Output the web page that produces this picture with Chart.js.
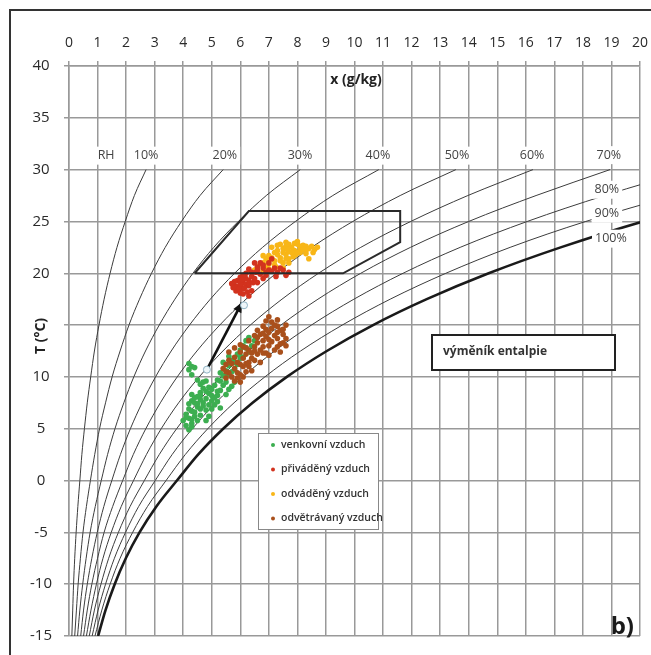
<!DOCTYPE html>
<html>
<head>
<meta charset="utf-8">
<script src="https://cdn.jsdelivr.net/npm/chart.js@4.4.1/dist/chart.umd.min.js"></script>
<style>
  html, body { margin: 0; padding: 0; background: #fff; }
  #wrap { position: relative; width: 651px; height: 655px; }
</style>
</head>
<body>
<div id="wrap"><canvas id="psy" width="651" height="655"></canvas></div>
<script>
// temperature levels (°C) at which the RH curves are read
const tempLevels = [-15, -12.5, -10, -7.5, -5, -2.5, 0, 2.5, 5, 7.5, 10, 12.5, 15, 17.5, 20, 22.5, 25, 27.5, 30];

// moisture content x (g/kg) on each RH curve, at the temperature levels above
const rh10 = [0.10, 0.13, 0.16, 0.20, 0.25, 0.31, 0.38, 0.45, 0.54, 0.64, 0.76, 0.89, 1.05, 1.23, 1.44, 1.68, 1.97, 2.29, 2.70];
const rh20 = [0.20, 0.26, 0.32, 0.40, 0.49, 0.61, 0.75, 0.90, 1.07, 1.28, 1.51, 1.79, 2.10, 2.47, 2.89, 3.37, 3.94, 4.59, 5.40];
const rh30 = [0.30, 0.38, 0.48, 0.60, 0.74, 0.92, 1.13, 1.35, 1.61, 1.92, 2.27, 2.68, 3.16, 3.71, 4.34, 5.07, 5.93, 6.91, 8.10];
const rh40 = [0.41, 0.51, 0.64, 0.80, 0.99, 1.22, 1.50, 1.80, 2.15, 2.56, 3.03, 3.58, 4.22, 4.95, 5.80, 6.78, 7.93, 9.24, 10.85];
const rh50 = [0.51, 0.64, 0.80, 1.00, 1.23, 1.53, 1.88, 2.25, 2.69, 3.20, 3.79, 4.48, 5.28, 6.20, 7.26, 8.50, 9.94, 11.60, 13.55];
const rh60 = [0.61, 0.77, 0.96, 1.19, 1.48, 1.83, 2.26, 2.71, 3.23, 3.84, 4.56, 5.39, 6.35, 7.46, 8.74, 10.22, 11.97, 13.97, 16.25];
const rh70 = [0.71, 0.89, 1.12, 1.39, 1.73, 2.14, 2.64, 3.16, 3.77, 4.49, 5.32, 6.29, 7.42, 8.72, 10.22, 11.96, 14.00, 16.36, 18.95];
const rh80 = [0.81, 1.02, 1.28, 1.59, 1.98, 2.44, 3.02, 3.61, 4.32, 5.14, 6.09, 7.20, 8.49, 9.98, 11.70, 13.70, 16.05, 18.76, 21.80];
const rh90 = [0.91, 1.15, 1.44, 1.79, 2.23, 2.75, 3.40, 4.07, 4.86, 5.78, 6.86, 8.11, 9.57, 11.25, 13.20, 15.45, 18.10, 21.20, 24.60];
const rh100 = [1.02, 1.28, 1.60, 1.99, 2.47, 3.06, 3.78, 4.52, 5.40, 6.43, 7.63, 9.03, 10.65, 12.53, 14.70, 17.22, 20.10, 23.60, 27.40];
const rhNames = ["RH", "10%", "20%", "30%", "40%", "50%", "60%", "70%", "80%", "90%", "100%"];

// comfort zone outline [x, T]
const comfortZone = [[4.4, 20], [6.3, 26], [11.6, 26], [11.6, 23], [9.6, 20], [4.4, 20]];
// arrow outdoor -> supply [x, T]
const arrowPts = [[4.83, 10.7], [6.06, 17.2]];

const seriesNames = ["venkovní vzduch", "přiváděný vzduch", "odváděný vzduch", "odvětrávaný vzduch"];

// measured states [x (g/kg), T (°C)]
const venkovni = [
  [4.2, 11.3], [4.2, 10.7], [4.3, 10.2], [4.5, 9.7], [4.6, 9.3], [4.7, 8.9], [4.6, 8.5], [4.5, 8.1],
  [4.3, 7.7], [4.2, 7.4], [4.2, 6.9], [4.1, 6.4], [4.2, 6.0], [4.3, 5.5], [4.2, 4.9], [4.4, 6.6],
  [4.5, 7.1], [4.7, 7.5], [4.8, 7.9], [4.9, 8.4], [5.0, 8.8], [5.1, 9.2], [4.8, 6.8], [4.9, 7.3],
  [5.0, 7.7], [5.2, 8.2], [5.3, 8.7], [5.4, 9.2], [5.2, 9.7], [5.4, 10.1], [5.5, 10.6], [5.6, 11.1],
  [5.7, 11.6], [5.6, 10.2], [5.8, 10.7], [5.9, 11.2], [6.0, 11.8], [5.9, 12.2], [6.0, 12.6], [6.1, 13.0],
  [6.2, 13.5], [6.3, 13.8], [6.3, 12.4], [5.5, 9.5], [5.1, 7.3], [4.6, 6.3], [4.5, 5.8], [4.0, 5.8],
  [4.1, 5.3], [4.8, 5.8], [5.0, 8.2], [5.4, 11.4], [5.6, 12.0], [6.1, 11.9], [6.4, 13.0], [6.5, 13.5],
  [4.4, 7.5], [4.6, 7.8], [4.3, 8.3], [4.8, 9.6], [4.9, 6.2], [5.3, 7.0], [5.6, 8.8], [5.8, 9.5],
  [4.3, 5.9], [4.4, 6.2], [4.6, 6.9], [4.7, 7.2], [4.5, 7.4], [4.4, 8.0], [4.6, 8.2], [4.8, 8.6],
  [4.7, 9.5], [4.9, 9.0], [5.1, 8.0], [5.2, 8.6], [5.3, 9.6], [5.5, 10.1], [5.3, 10.4], [5.7, 10.5],
  [5.8, 11.4], [6.0, 12.0], [6.2, 12.8], [4.3, 6.7], [4.1, 6.1], [4.3, 5.2], [4.4, 10.9], [4.3, 11.0],
  [5.0, 6.9], [5.2, 7.6], [5.5, 8.3], [5.7, 9.1]
];
const privadeny = [
  [5.8, 18.8], [5.9, 19.3], [6.0, 19.6], [6.1, 19.1], [6.2, 19.5], [5.85, 18.3], [6.0, 18.1], [6.1, 18.5],
  [6.3, 18.8], [6.3, 19.3], [6.4, 19.7], [6.55, 20.1], [6.4, 18.3], [6.6, 19.1], [6.8, 19.5], [6.3, 17.8],
  [5.9, 18.7], [6.2, 20.0], [6.3, 20.4], [6.6, 20.6], [6.8, 20.5], [6.9, 20.1], [7.0, 20.3], [7.2, 20.5],
  [7.3, 20.1], [7.5, 20.3], [7.6, 19.8], [7.7, 20.1], [6.7, 21.0], [7.0, 21.0], [7.1, 21.4], [6.5, 21.0],
  [6.0, 18.9], [5.7, 19.0], [6.9, 19.8], [7.25, 19.7], [6.1, 18.0],
  [5.8, 19.2], [6.0, 19.0], [6.1, 19.8], [6.2, 18.9], [6.3, 19.0], [6.45, 19.1], [6.5, 19.5], [6.4, 20.1],
  [6.7, 19.9], [6.15, 18.6], [5.95, 18.5], [6.25, 18.2], [6.8, 20.8], [7.1, 20.2], [7.4, 20.5], [6.6, 20.3],
  [6.05, 19.4], [5.75, 18.6]
];
const odvadeny = [
  [6.6, 20.6], [6.8, 21.0], [6.9, 21.4], [7.0, 21.7], [7.2, 22.0], [7.3, 22.2], [7.5, 22.4], [7.6, 22.6],
  [7.7, 22.8], [7.9, 22.9], [8.0, 22.8], [8.2, 22.7], [8.3, 22.6], [8.4, 22.4], [8.6, 22.3], [8.7, 22.5],
  [6.9, 20.6], [7.0, 20.9], [7.2, 21.2], [7.4, 21.5], [7.6, 21.8], [7.7, 22.1], [7.9, 22.2], [8.1, 22.0],
  [8.3, 21.9], [8.4, 21.4], [7.0, 20.4], [7.25, 20.6], [7.5, 21.0], [7.7, 21.4], [7.85, 21.6], [7.4, 22.8],
  [7.6, 23.0], [8.0, 23.05], [7.1, 22.5], [7.3, 22.7], [6.5, 20.3], [6.8, 20.3], [8.1, 22.4], [7.7, 21.0],
  [7.5, 20.5], [7.95, 21.8], [6.8, 21.7], [8.3, 22.2], [8.55, 22.0],
  [7.1, 21.5], [7.3, 21.8], [7.5, 22.0], [7.8, 22.5], [8.1, 22.6], [7.9, 21.9], [7.2, 20.8], [7.4, 21.2],
  [7.6, 21.4], [7.8, 22.0], [8.2, 22.3], [8.5, 22.6], [7.0, 21.2], [6.7, 20.9], [7.65, 22.3], [8.0, 22.0]
];
const odvetravany = [
  [5.4, 10.8], [5.5, 11.2], [5.6, 11.6], [5.6, 10.4], [5.7, 10.0], [5.9, 9.9], [6.0, 10.2], [5.8, 10.8],
  [5.9, 11.4], [6.1, 11.8], [6.2, 12.2], [6.1, 11.0], [6.3, 11.4], [6.4, 11.8], [6.3, 12.6], [6.5, 12.9],
  [6.6, 13.3], [6.6, 12.2], [6.7, 12.6], [6.8, 12.9], [6.8, 13.5], [6.9, 13.9], [7.0, 14.3], [7.0, 13.0],
  [7.1, 13.4], [7.3, 13.7], [7.2, 12.6], [7.3, 12.9], [7.5, 13.3], [6.6, 14.5], [6.8, 14.9], [6.9, 15.4],
  [7.0, 15.8], [7.1, 15.3], [7.3, 14.9], [7.4, 14.5], [7.5, 14.1], [7.6, 13.7], [5.6, 12.4], [5.8, 12.8],
  [6.3, 13.5], [5.5, 9.9], [6.0, 9.5], [6.4, 10.6], [6.7, 11.4], [7.0, 12.1], [7.4, 12.4], [7.6, 15.0],
  [7.6, 13.0], [6.5, 14.0], [7.3, 15.5], [6.2, 10.5], [6.5, 11.6], [5.8, 9.6], [6.0, 11.2], [6.9, 12.3],
  [7.2, 14.0],
  [5.5, 10.5], [5.7, 11.3], [5.8, 11.9], [6.0, 12.4], [6.1, 12.9], [6.2, 11.3], [6.4, 12.3], [6.5, 12.5],
  [6.6, 13.8], [6.7, 14.1], [6.8, 14.2], [6.9, 14.6], [7.1, 14.7], [7.2, 15.0], [7.4, 13.2], [7.0, 13.6],
  [6.8, 12.3], [6.3, 11.0], [5.9, 10.4], [6.1, 10.0], [7.5, 14.6], [7.3, 14.3], [6.2, 12.8], [6.0, 13.1]
];

const seriesColors = ["#3cae50", "#d2321e", "#f8b617", "#a9501c"];
const FONT = "'Open Sans', 'Liberation Sans', sans-serif";
const GRID = "#999999";

const toXY = (arr) => arr.map(p => ({ x: p[0], y: p[1] }));

const rhCurves = [rh10, rh20, rh30, rh40, rh50, rh60, rh70, rh80, rh90, rh100].map((arr, k) => ({
  data: tempLevels.map((t, i) => ({ x: arr[i], y: t })),
  showLine: true,
  fill: false,
  pointRadius: 0,
  borderColor: k === 9 ? "#1a1a1a" : "#3c3c3c",
  borderWidth: k === 9 ? 2.6 : 1,
  cubicInterpolationMode: "monotone",
  order: 6
}));

function pointSet(arr, idx, order) {
  return {
    label: seriesNames[idx],
    data: toXY(arr),
    pointRadius: 2.8,
    pointBorderWidth: 0,
    backgroundColor: seriesColors[idx],
    borderColor: seriesColors[idx],
    order: order
  };
}

const overlay = {
  id: "overlay",
  afterDatasetsDraw(chart) {
    const { ctx, scales } = chart;
    const px = (x) => scales.x.getPixelForValue(x);
    const py = (t) => scales.y.getPixelForValue(t);

    // arrow head
    const x1 = px(arrowPts[0][0]), y1 = py(arrowPts[0][1]);
    const x2 = px(arrowPts[1][0]), y2 = py(arrowPts[1][1]);
    const ang = Math.atan2(y2 - y1, x2 - x1);
    ctx.save();
    ctx.fillStyle = "#111";
    ctx.beginPath();
    ctx.moveTo(x2, y2);
    ctx.lineTo(x2 - 11 * Math.cos(ang - 0.42), y2 - 11 * Math.sin(ang - 0.42));
    ctx.lineTo(x2 - 11 * Math.cos(ang + 0.42), y2 - 11 * Math.sin(ang + 0.42));
    ctx.closePath();
    ctx.fill();
    // open circles at the arrow ends
    ctx.lineWidth = 1;
    ctx.strokeStyle = "#8fb3c4";
    ctx.fillStyle = "#eef6fa";
    [[x1, y1], [x2 + 2, y2 + 3]].forEach(([a0, b0]) => {
      ctx.beginPath(); ctx.arc(a0, b0, 3.5, 0, Math.PI * 2); ctx.fill(); ctx.stroke();
    });

    // RH labels with white background
    const spots = [[1.30, 31.35], [2.70, 31.35], [5.46, 31.35], [8.09, 31.35], [10.82, 31.35],
      [13.59, 31.35], [16.22, 31.35], [18.91, 31.4], [18.84, 28.06], [18.84, 25.75], [18.98, 23.34]];
    ctx.font = "12.5px " + FONT;
    ctx.textAlign = "center";
    ctx.textBaseline = "middle";
    rhNames.forEach((name, i) => {
      const cx = px(spots[i][0]), cy = py(spots[i][1]);
      const w = ctx.measureText(name).width + 6;
      ctx.fillStyle = "#fff";
      ctx.fillRect(cx - w / 2, cy - 9, w, 18);
      ctx.fillStyle = "#444";
      ctx.fillText(name, cx, cy);
    });

    // axis title inside the plot
    ctx.font = "bold 14px " + FONT;
    ctx.fillStyle = "#222";
    ctx.fillText("x (g/kg)", 356, 80);

    // info box
    ctx.fillStyle = "#fff";
    ctx.fillRect(432, 335, 183, 35);
    ctx.lineWidth = 2;
    ctx.strokeStyle = "#222";
    ctx.strokeRect(432, 335, 183, 35);
    ctx.fillStyle = "#333";
    ctx.textAlign = "left";
    ctx.font = "bold 12px " + FONT;
    ctx.fillText("výměník entalpie", 443, 352);

    // legend box
    ctx.fillStyle = "#fff";
    ctx.fillRect(258, 433, 120, 96);
    ctx.lineWidth = 1;
    ctx.strokeStyle = "#888";
    ctx.strokeRect(258.5, 433.5, 120, 96);
    ctx.font = "600 10.5px " + FONT;
    seriesNames.forEach((name, i) => {
      const ly = 445 + i * 24.5;
      ctx.fillStyle = seriesColors[i];
      ctx.beginPath(); ctx.arc(273, ly, 2, 0, Math.PI * 2); ctx.fill();
      ctx.fillStyle = "#333";
      ctx.fillText(name, 281, ly);
    });

    // panel tag
    ctx.font = "bold 24px " + FONT;
    ctx.fillStyle = "#1a1a1a";
    ctx.textAlign = "right";
    ctx.textBaseline = "alphabetic";
    ctx.fillText("b)", 634, 634);

    // y axis title, covering the "15" tick label as in the original
    ctx.translate(41, 336);
    ctx.rotate(-Math.PI / 2);
    ctx.fillStyle = "#fff";
    ctx.fillRect(-24, -10, 48, 20);
    ctx.textAlign = "center";
    ctx.textBaseline = "middle";
    ctx.font = "bold 14px " + FONT;
    ctx.fillStyle = "#222";
    ctx.fillText("T (°C)", 0, 0);
    ctx.restore();
  },
  afterDraw(chart) {
    const { ctx } = chart;
    ctx.save();
    ctx.strokeStyle = "#333";
    ctx.lineWidth = 2;
    ctx.beginPath();
    ctx.moveTo(10, 655);
    ctx.lineTo(10, 10);
    ctx.lineTo(651, 10);
    ctx.stroke();
    ctx.restore();
  }
};

new Chart(document.getElementById("psy"), {
  type: "scatter",
  data: {
    datasets: [
      pointSet(venkovni, 0, 4),
      pointSet(privadeny, 1, 2),
      pointSet(odvadeny, 2, 3),
      pointSet(odvetravany, 3, 1),
      ...rhCurves,
      {
        data: toXY(comfortZone), showLine: true, fill: false, pointRadius: 0,
        borderColor: "#2a2a2a", borderWidth: 2, tension: 0, order: 0
      },
      {
        data: toXY(arrowPts), showLine: true, fill: false, pointRadius: 0,
        borderColor: "#111", borderWidth: 2.6, tension: 0, order: 0
      }
    ]
  },
  options: {
    responsive: false,
    animation: false,
    devicePixelRatio: 1,
    layout: { padding: { left: 0, right: 11, top: 0, bottom: 19 } },
    plugins: { legend: { display: false }, tooltip: { enabled: false } },
    scales: {
      x: {
        type: "linear",
        position: "top",
        min: 0, max: 20,
        afterFit: (s) => { s.height = 66; s.paddingLeft = 0; s.paddingRight = 0; },
        ticks: { stepSize: 1, padding: 10, color: "#2a2a2a", font: { family: FONT, size: 14 } },
        grid: { color: GRID, lineWidth: 1.5, tickLength: 5 },
        border: { color: GRID, width: 1.5 }
      },
      y: {
        min: -15, max: 40,
        afterFit: (s) => { s.width = 69; s.paddingTop = 0; s.paddingBottom = 0; },
        ticks: { stepSize: 5, padding: 12, crossAlign: "center", color: "#2a2a2a", font: { family: FONT, size: 15 } },
        grid: { color: GRID, lineWidth: 1.5, tickLength: 5 },
        border: { color: GRID, width: 1.5 }
      }
    }
  },
  plugins: [overlay]
});
</script>
</body>
</html>
